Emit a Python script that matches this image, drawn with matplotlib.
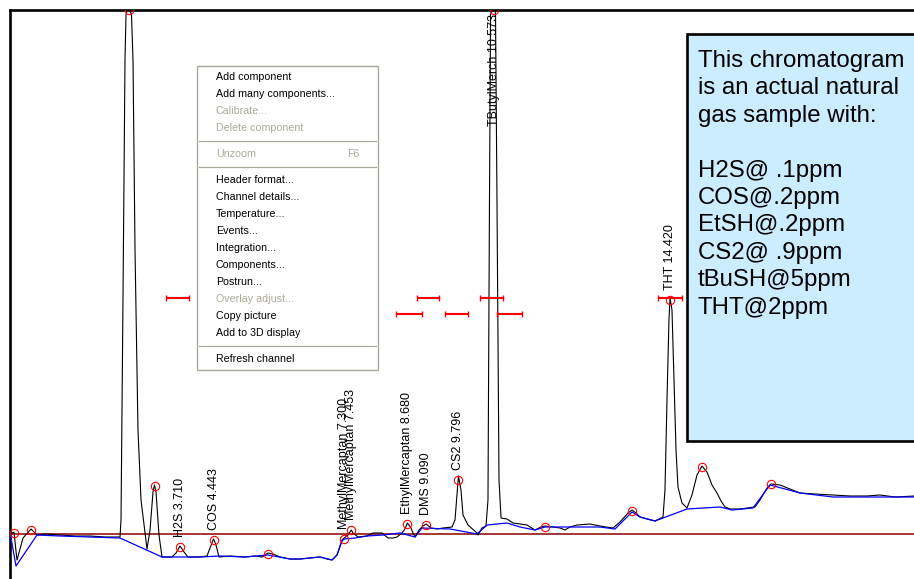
import matplotlib
matplotlib.use('Agg')
import matplotlib.pyplot as plt
from matplotlib.patches import Rectangle

plt.rcParams['font.family'] = ['Liberation Sans', 'DejaVu Sans']

W, H, DPI = 914, 579, 100

# ---------------- data (time in minutes, signal in counts) ----------------
trace_time = [0.00, 0.081, 0.146, 0.278, 0.452, 0.584, 0.758, 1.086, 1.414, 1.742, 2.070, 2.398,
              2.420, 2.463, 2.507, 2.529, 2.584, 2.649, 2.682, 2.726, 2.791, 2.857, 2.988,
              3.054, 3.119, 3.152, 3.185, 3.250, 3.316, 3.534, 3.622, 3.710, 3.797, 3.884,
              4.147, 4.299, 4.365, 4.443, 4.496, 4.562, 4.802, 5.130, 5.349, 5.502, 5.633,
              5.742, 5.895, 6.114, 6.332, 6.551, 6.769, 6.923, 7.032, 7.141, 7.250, 7.300,
              7.381, 7.453, 7.491, 7.600, 7.797, 7.928, 8.125, 8.256, 8.365, 8.452, 8.562,
              8.627, 8.680, 8.759, 8.802, 8.846, 8.934, 9.021, 9.090, 9.195, 9.327, 9.458,
              9.655, 9.720, 9.764, 9.796, 9.851, 9.895, 10.004, 10.201, 10.223, 10.310,
              10.398, 10.441, 10.474, 10.497, 10.573, 10.606, 10.638, 10.682, 10.726,
              10.857, 10.988, 11.141, 11.294, 11.469, 11.600, 11.687, 11.862, 12.015,
              12.125, 12.234, 12.387, 12.671, 12.890, 13.021, 13.174, 13.327, 13.502,
              13.589, 13.677, 13.764, 13.917, 14.092, 14.267, 14.310, 14.354, 14.397,
              14.420, 14.463, 14.507, 14.551, 14.594, 14.681, 14.791, 14.900, 15.010,
              15.119, 15.228, 15.338, 15.447, 15.535, 15.622, 15.731, 15.950, 16.103,
              16.277, 16.387, 16.540, 16.627, 16.824, 17.043, 17.261, 17.589, 17.982,
              18.354, 18.723, 19.010, 19.337, 19.753, 19.880]
trace_signal = [0, 2, -26, -4, 5, -1, 0, -1, -2, -2, -3, -3,
                14, 234, 474, 519, 530, 519, 474, 284, 104, 34, -15,
                4, 42, 49, 42, -1, -23, -23, -19, -12, -18, -23,
                -23, -22, -14, -5, -11, -23, -22, -23, -22, -23, -19,
                -20, -23, -25, -25, -24, -23, -25, -26, -21, -6, -4,
                -1, 4, 1, -3, -2, 1, 1, -4, -4, -3, 1,
                5, 11, 6, 1, -3, 4, 8, 10, 6, 5, 6,
                7, 14, 39, 58, 44, 19, 9, 1, -1, 6,
                8, 34, 334, 519, 530, 519, 334, 54, 16,
                15, 11, 10, 9, 4, 7, 8, 7, 6,
                4, 7, 9, 10, 8, 7, 6, 12, 21,
                24, 21, 17, 15, 13, 17, 44, 134, 214,
                236, 224, 154, 84, 47, 31, 26, 39, 59,
                68, 62, 49, 41, 33, 27, 25, 25, 26,
                27, 34, 46, 50, 49, 45, 41, 40, 39,
                38, 38, 39, 37, 38, 38]

baseline_time = [0.00, 0.125, 0.584, 1.086, 1.742, 2.398, 3.316, 3.710, 4.147, 4.584, 5.130,
                 5.633, 6.114, 6.332, 6.769, 7.032, 7.141, 7.250, 7.300, 7.534, 7.797, 8.147,
                 8.518, 8.846, 8.999, 9.611, 10.201, 10.420, 10.857, 11.141, 11.469, 11.687,
                 12.890, 13.217, 13.589, 13.764, 14.092, 14.791, 15.512, 15.775, 16.234,
                 16.606, 17.261, 17.982, 19.753, 19.880]
baseline_signal = [0, -32, -1, -2, -3, -4, -23, -23, -23, -22, -23,
                   -21, -25, -25, -23, -26, -21, -7, -5, -4, -2, -1,
                   1, -3, 6, 5, 0, 9, 11, 7, 4, 7,
                   7, 5, 22, 17, 13, 25, 27, 24, 26,
                   49, 41, 37, 37, 37]

peak_time = [0.081, 0.452, 2.584, 3.152, 3.710, 4.443, 5.633, 7.300, 7.453, 8.680,
             9.090, 9.796, 10.573, 11.687, 13.589, 14.420, 15.119, 16.627]
peak_height = [1, 4, 524, 48, -13, -6, -20, -5, 4, 10,
               9, 54, 524, 7, 23, 234, 67, 50]

comp_names = ['H2S', 'COS', 'MethylMercaptan', 'MethylMercaptan', 'EthylMercaptan',
              'DMS', 'CS2', 'TButylMerch', 'THT']
comp_time = [3.710, 4.443, 7.300, 7.453, 8.680, 9.090, 9.796, 10.573, 14.420]
comp_height = [-13, -6, -5, 4, 10, 9, 54, 524, 234]

window_center = [3.655, 8.715, 9.130, 9.753, 10.518, 10.910, 14.420]
window_half = [0.25, 0.284, 0.24, 0.25, 0.25, 0.27, 0.26]
window_level = [236, 220, 236, 220, 236, 220, 236]

menu_items = ['Add component', 'Add many components...', 'Calibrate...', 'Delete component',
              None, 'Unzoom', None, 'Header format...', 'Channel details...', 'Temperature...',
              'Events...', 'Integration...', 'Components...', 'Postrun...', 'Overlay adjust...',
              'Copy picture', 'Add to 3D display', None, 'Refresh channel']
menu_disabled = ['Calibrate...', 'Delete component', 'Unzoom', 'Overlay adjust...']

note_lines = ['This chromatogram', 'is an actual natural', 'gas sample with:', '',
              'H2S@ .1ppm', 'COS@.2ppm', 'EtSH@.2ppm', 'CS2@ .9ppm', 'tBuSH@5ppm', 'THT@2ppm']

# ---------------- figure ----------------
fig = plt.figure(figsize=(W / DPI, H / DPI), dpi=DPI)
fig.patch.set_facecolor('white')

ax = fig.add_axes([9.5 / W, 0, (W - 9.5) / W, (H - 10) / H])
ax.set_xlim(-0.0175, 19.753)
ax.set_ylim(-45, 524)
ax.set_xticks([])
ax.set_yticks([])
for s in ['right', 'bottom']:
    ax.spines[s].set_visible(False)
for s in ['left', 'top']:
    ax.spines[s].set_linewidth(1.9)
    ax.spines[s].set_color('black')

ax.axhline(0, color='#8B0000', lw=1.1, zorder=1)
ax.plot(trace_time, trace_signal, color='black', lw=0.8, zorder=2)
ax.plot(baseline_time, baseline_signal, color='#0000FF', lw=0.9, zorder=3)
ax.plot(peak_time, peak_height, ls='none', marker='o', ms=6, mfc='none',
        mec='red', mew=0.8, zorder=4)
ax.errorbar(window_center, window_level, xerr=window_half, fmt='none', ecolor='red',
            elinewidth=1.5, capsize=2.5, capthick=1.0, zorder=4)

ytop = ax.get_ylim()[1]
for name, t, h in zip(comp_names, comp_time, comp_height):
    label = f'{name} {t:.3f}'
    if h + 10 > ytop:
        ax.annotate(label, xy=(t, 1), xycoords=('data', 'axes fraction'),
                    xytext=(0, -3), textcoords='offset points', rotation=90,
                    ha='center', va='top', fontsize=9, zorder=5)
    else:
        ax.annotate(label, xy=(t, h), xytext=(0, 7), textcoords='offset points',
                    rotation=90, ha='center', va='bottom', fontsize=9, zorder=5)

# ---------------- overlay (pixel coordinates) ----------------
ov = fig.add_axes([0, 0, 1, 1])
ov.set_xlim(0, W)
ov.set_ylim(H, 0)
ov.axis('off')
ov.set_zorder(10)

# context menu
ov.add_patch(Rectangle((197, 66), 181, 304, facecolor='white', edgecolor='#ACA899', lw=1.0))
y = 77
for item in menu_items:
    if item is None:
        ov.plot([199, 376], [y - 4, y - 4], color='#ACA899', lw=0.9)
        y += 9
        continue
    col = '#ACA899' if item in menu_disabled else 'black'
    ov.text(216, y, item, fontsize=7.7, color=col, va='center', ha='left')
    if item == 'Unzoom':
        ov.text(347, y, 'F6', fontsize=7.7, color=col, va='center', ha='left')
    y += 17

# note box
ov.add_patch(Rectangle((687, 34), 240, 407, facecolor='#CCECFF', edgecolor='black',
                       lw=1.9, clip_on=False))
for i, line in enumerate(note_lines):
    ov.text(698, 67 + 27.4 * i, line, fontsize=17.3, color='black', va='baseline', ha='left')

fig.savefig('out.png', dpi=DPI)
